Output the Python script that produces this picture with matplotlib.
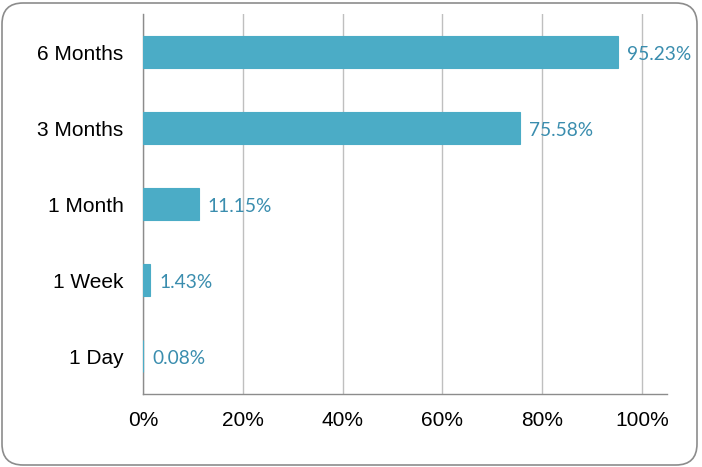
import matplotlib.pyplot as plt
from matplotlib.patches import FancyBboxPatch
from matplotlib.ticker import FuncFormatter

# data
periods = ["1 Day", "1 Week", "1 Month", "3 Months", "6 Months"]
shares = [0.08, 1.43, 11.15, 75.58, 95.23]
x_ticks = [0, 20, 40, 60, 80, 100]

bar_color = "#4BACC6"
label_color = "#3A8DAE"

fig = plt.figure(figsize=(7.02, 4.67), dpi=100)
ax = fig.add_axes([143 / 702, 1 - 394 / 467, (667 - 143) / 702, (394 - 14) / 467])

# rounded frame round the whole chart
frame = FancyBboxPatch((2 / 702, 2 / 467), 695 / 702, 462 / 467,
                       boxstyle="round,pad=0,rounding_size=0.03",
                       transform=fig.transFigure, facecolor="none",
                       edgecolor="#8C8C8C", linewidth=1.2, mutation_aspect=702 / 467)
fig.patches.append(frame)

ypos = range(len(periods))
ax.barh(ypos, shares, height=0.41, color=bar_color, edgecolor=bar_color,
        linewidth=0.8, zorder=3)

for y, v in zip(ypos, shares):
    ax.annotate(f"{v:.2f}%", (v, y), xytext=(9, -2), textcoords="offset pixels",
                va="center", ha="left", color=label_color,
                fontsize=13.8, family="Lato")

ax.set_xlim(0, 105)
ax.set_ylim(-0.5, len(periods) - 0.5)
ax.set_xticks(x_ticks)
ax.xaxis.set_major_formatter(FuncFormatter(lambda v, _: f"{v:.0f}%"))
ax.set_yticks(list(ypos))
ax.set_yticklabels(periods)

ax.grid(axis="x", color="#BFBFBF", linewidth=1, zorder=0)
ax.tick_params(length=0, labelsize=15, pad=14)
ax.tick_params(axis="x", pad=12)
for lab in ax.get_xticklabels() + ax.get_yticklabels():
    lab.set_family("Liberation Sans")

for side in ["top", "right"]:
    ax.spines[side].set_visible(False)
for side in ["left", "bottom"]:
    ax.spines[side].set_color("#8C8C8C")
    ax.spines[side].set_linewidth(1)

fig.savefig("out.png", dpi=100)
